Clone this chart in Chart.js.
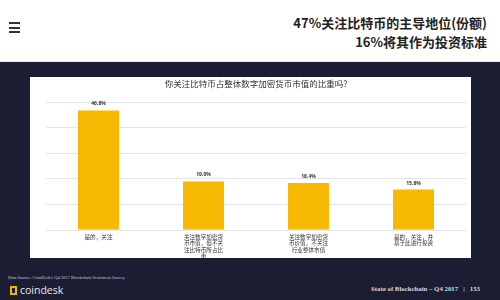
<!DOCTYPE html>
<html><head><meta charset="utf-8">
<script src="https://cdn.jsdelivr.net/npm/chart.js@4/dist/chart.umd.min.js"></script>
<style>
html,body{margin:0;padding:0;width:500px;height:300px;overflow:hidden;background:#fff;font-family:"Noto Sans CJK SC","Noto Sans",sans-serif;}
#top{position:absolute;left:0;top:0;width:500px;height:61px;background:#fff;border-bottom:1px solid #e8e8e8;}
#burger{position:absolute;left:9px;top:22px;width:11px;}
#burger div{height:2px;background:#333;margin-bottom:2.5px;}
#head{position:absolute;right:13px;top:13px;text-align:right;font-weight:bold;font-size:13px;line-height:19px;color:#222;}
#dark{position:absolute;left:0;top:62px;width:500px;height:238px;background:#1b1e32;}
#panel{position:absolute;left:30px;top:77px;width:441px;height:181px;background:#fff;}
#src{position:absolute;left:8px;top:275px;font-size:4.5px;color:#c8c8d0;font-family:"Liberation Serif",serif;}
#logo{position:absolute;left:10px;top:283px;font-size:10.5px;color:#e8e8ee;font-family:"Open Sans",sans-serif;}
#logo span{display:inline-block;width:7px;height:9px;border:2px solid #f0b400;box-sizing:border-box;margin-right:3px;vertical-align:-1px;}
#foot{position:absolute;right:20px;top:285px;font-size:6.8px;color:#d8d8e0;font-family:"Liberation Serif",serif;font-weight:bold;white-space:pre;}
</style></head>
<body>
<div id="top"><div id="burger"><div></div><div></div><div></div></div>
<div id="head">47%关注比特币的主导地位(份额)<br>16%将其作为投资标准</div></div>
<div id="dark"></div>
<div id="panel"><canvas id="c" width="441" height="181"></canvas></div>
<div id="src">Data Source: CoinDesk's Q4 2017 Blockchain Sentiment Survey</div>
<div id="logo"><span></span>coindesk</div>
<div id="foot">State of Blockchain – Q4 2017   |   153</div>
<script>
const categories = [
  ["是的，关注"],
  ["关注数字加密货","币市值，但不关","注比特币所占比","重"],
  ["关注数字加密货","币价值，不关注","行业整体市值"],
  ["是的，关注，并","基于此进行投资"]
];
const values = [46.8, 19.0, 18.4, 15.8];
const valueLabels = ["46.8%","19.0%","18.4%","15.8%"];
const chartTitle = "你关注比特币占整体数字加密货币市值的比重吗?";
const barColor = "#f6b800";

const labelPlugin = {
  id: 'vlabels',
  afterDatasetsDraw(chart) {
    const ctx = chart.ctx;
    const meta = chart.getDatasetMeta(0);
    ctx.save();
    ctx.font = 'bold 5px "Noto Sans", sans-serif';
    ctx.fillStyle = '#333';
    ctx.textAlign = 'center';
    ctx.textBaseline = 'bottom';
    meta.data.forEach((bar, i) => {
      ctx.fillText(valueLabels[i], bar.x, bar.y - 4);
    });
    ctx.restore();
  }
};

new Chart(document.getElementById('c'), {
  type: 'bar',
  data: {
    labels: categories,
    datasets: [{ data: values, backgroundColor: barColor, borderWidth: 0,
      barPercentage: 0.78, categoryPercentage: 0.5 }]
  },
  options: {
    responsive: false,
    animation: false,
    devicePixelRatio: 1,
    layout: { padding: { left: 16, right: 5, top: 0, bottom: 0 } },
    plugins: {
      legend: { display: false },
      tooltip: { enabled: false },
      title: { display: true, text: chartTitle, color: '#333',
        font: { size: 8.5, family: '"Noto Sans CJK SC", sans-serif', weight: 'normal' },
        padding: { top: 2, bottom: 13 } }
    },
    scales: {
      y: { min: 0, max: 50, ticks: { display: false, stepSize: 10 },
        grid: { color: '#e4e4e4', drawTicks: false }, border: { display: false } },
      x: { grid: { display: false, drawTicks: false }, border: { display: false },
        afterFit(scale) { scale.height = 28; },
        ticks: { color: '#333', padding: 4, maxRotation: 0, autoSkip: false,
          font: { size: 5.6, family: '"Noto Sans CJK SC", sans-serif', lineHeight: '6.2px' } } }
    }
  },
  plugins: [labelPlugin]
});
</script>
</body></html>
